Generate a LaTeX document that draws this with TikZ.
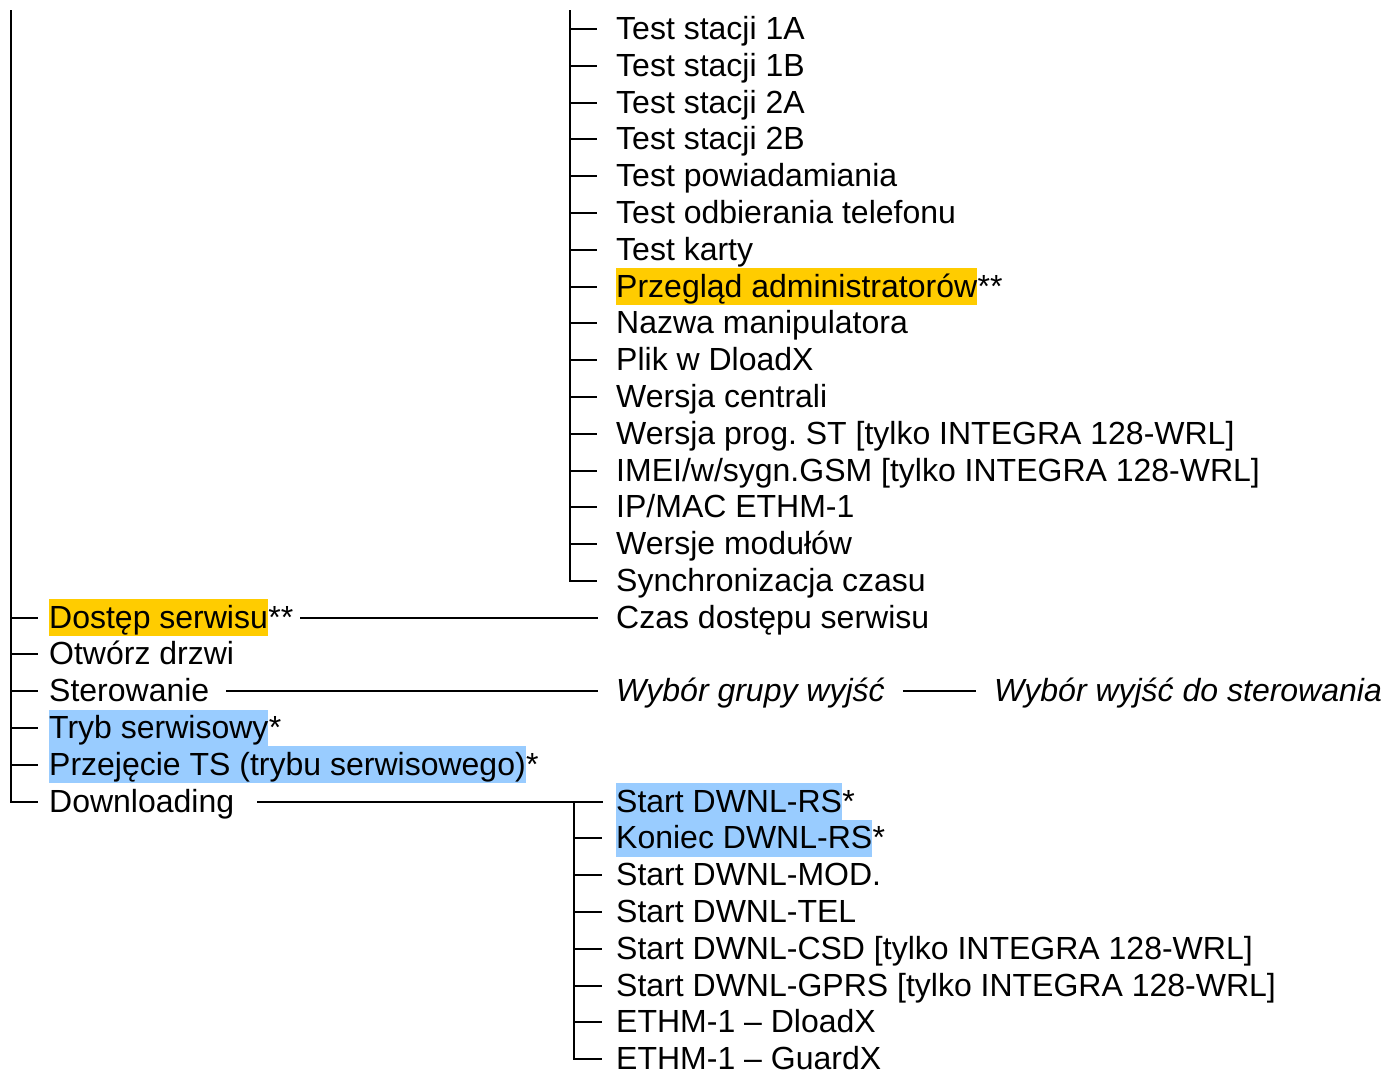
\documentclass[tikz,border=0pt]{standalone}
\usepackage{fontspec}
\setmainfont{Liberation Sans}
\newcommand\fsz{\fontsize{32pt}{37pt}\selectfont\frenchspacing}
\definecolor{hlorange}{HTML}{FFCC00}
\definecolor{hlblue}{HTML}{99CCFF}
\begin{document}
\begin{tikzpicture}[x=1pt,y=-1pt,
  lbl/.style={anchor=west, inner sep=0pt, font=\fsz, text height=29pt, text depth=8pt},
  hlo/.style={lbl, fill=hlorange},
  hlb/.style={lbl, fill=hlblue},
  tree/.style={line width=2pt, black}]
\useasboundingbox (0,0) rectangle (1386,1072);
% top list
\node[lbl] (t1) at (616,29.0) {Test stacji 1A};
\node[lbl] (t2) at (616,65.8) {Test stacji 1B};
\node[lbl] (t3) at (616,102.6) {Test stacji 2A};
\node[lbl] (t4) at (616,139.4) {Test stacji 2B};
\node[lbl] (t5) at (616,176.2) {Test powiadamiania};
\node[lbl] (t6) at (616,213.0) {Test odbierania telefonu};
\node[lbl] (t7) at (616,249.7) {Test karty};
\node[hlo] (t8) at (616,286.5) {Przegląd administratorów};
\node[lbl] (t8s) at (t8.east) {**};
\node[lbl] (t9) at (616,323.3) {Nazwa manipulatora};
\node[lbl] (t10) at (616,360.1) {Plik w DloadX};
\node[lbl] (t11) at (616,396.9) {Wersja centrali};
\node[lbl] (t12) at (616,433.7) {Wersja prog. ST [tylko INTEGRA 128-WRL]};
\node[lbl] (t13) at (616,470.5) {IMEI/w/sygn.GSM [tylko INTEGRA 128-WRL]};
\node[lbl] (t14) at (616,507.3) {IP/MAC ETHM-1};
\node[lbl] (t15) at (616,544.1) {Wersje modułów};
\node[lbl] (t16) at (616,580.8) {Synchronizacja czasu};
% left list
\node[hlo] (a1) at (49,617.6) {Dostęp serwisu};
\node[lbl] (a1s) at (a1.east) {**};
\node[lbl] (a2) at (49,654.4) {Otwórz drzwi};
\node[lbl] (a3) at (49,691.2) {Sterowanie};
\node[hlb] (a4) at (49,728.0) {Tryb serwisowy};
\node[lbl] (a4s) at (a4.east) {*};
\node[hlb] (a5) at (49,764.8) {Przejęcie TS (trybu serwisowego)};
\node[lbl] (a5s) at (a5.east) {*};
\node[lbl] (a6) at (49,801.6) {Downloading};
% second level single items
\node[lbl] (c1) at (616,617.6) {Czas dostępu serwisu};
\node[lbl] (w1) at (616,691.2) {\itshape Wybór grupy wyjść};
\node[lbl] (w2) at (994,691.2) {\itshape Wybór wyjść do sterowania};
% download list
\node[hlb] (d1) at (616,801.6) {Start DWNL-RS};
\node[lbl] (d1s) at (d1.east) {*};
\node[hlb] (d2) at (616,838.4) {Koniec DWNL-RS};
\node[lbl] (d2s) at (d2.east) {*};
\node[lbl] (d3) at (616,875.2) {Start DWNL-MOD.};
\node[lbl] (d4) at (616,912.0) {Start DWNL-TEL};
\node[lbl] (d5) at (616,948.8) {Start DWNL-CSD [tylko INTEGRA 128-WRL]};
\node[lbl] (d6) at (616,985.5) {Start DWNL-GPRS [tylko INTEGRA 128-WRL]};
\node[lbl] (d7) at (616,1022.3) {ETHM-1 – DloadX};
\node[lbl] (d8) at (616,1059.1) {ETHM-1 – GuardX};
% left tree
\coordinate (ltop) at (11,10);
\draw[tree] (ltop) |- ([xshift=-11pt]a6.west);
\foreach \n in {a1,a2,a3,a4,a5}
  \draw[tree] (ltop |- \n.west) -- ([xshift=-11pt]\n.west);
% top tree
\coordinate (mtop) at (570,10);
\draw[tree] (mtop) |- ([xshift=-19pt]t16.west);
\foreach \n in {t1,t2,t3,t4,t5,t6,t7,t8,t9,t10,t11,t12,t13,t14,t15}
  \draw[tree] (mtop |- \n.west) -- ([xshift=-19pt]\n.west);
% single connectors
\draw[tree] ([xshift=7pt]a1s.east) -- ([xshift=-18pt]c1.west);
\draw[tree] ([xshift=17pt]a3.east) -- ([xshift=-18pt]w1.west);
\draw[tree] ([xshift=18pt]w1.east) -- ([xshift=-18pt]w2.west);
% download tree
\draw[tree] ([xshift=23pt]a6.east) -- ([xshift=-13pt]d1.west);
\coordinate (dtop) at ([xshift=-42pt]d1.west);
\draw[tree] (dtop) |- ([xshift=-14pt]d8.west);
\foreach \n in {d2,d3,d4,d5,d6,d7}
  \draw[tree] (dtop |- \n.west) -- ([xshift=-14pt]\n.west);
\end{tikzpicture}
\end{document}
